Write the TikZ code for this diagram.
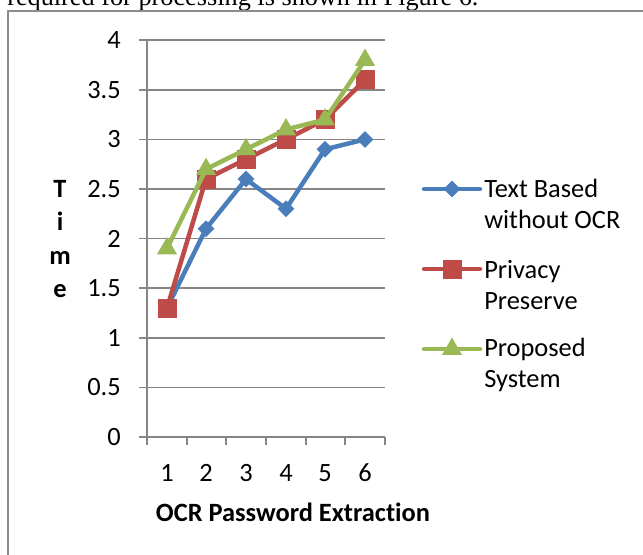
\documentclass[tikz,border=0pt]{standalone}
\usepackage{fontspec}
\setmainfont{Carlito}[Ligatures=NoCommon]
\newfontfamily\captionserif{Liberation Serif}
\usetikzlibrary{shapes.geometric}
\newlength{\du}
\setlength{\du}{0.75pt}
\definecolor{gridgray}{HTML}{868686}
\definecolor{framegray}{HTML}{8C8C8C}
\definecolor{seriesblue}{HTML}{4A7EBB}
\definecolor{seriesred}{HTML}{BE4B48}
\definecolor{seriesgreen}{HTML}{98B954}

\begin{document}
\begin{tikzpicture}[
  font=\fontsize{19.8pt}{23pt}\selectfont,
  gridline/.style={draw=gridgray, line width=1.6\du},
  seriesline/.style={line width=4.5\du, line join=round, line cap=round},
  diamondmark/.style={diamond, fill=seriesblue, inner sep=0pt, minimum width=17\du, minimum height=17\du},
  squaremark/.style={rectangle, fill=seriesred, inner sep=0pt, minimum size=19\du},
  trianglemark/.style={regular polygon, regular polygon sides=3, fill=seriesgreen, inner sep=0pt, minimum size=23\du},
  ticklabel/.style={anchor=east, inner sep=0pt},
  catlabel/.style={inner sep=0pt},
  legendtext/.style={anchor=west, inner sep=0pt, align=left, font=\fontsize{19.8pt}{31.5\du}\selectfont},
  titleletter/.style={anchor=base, inner sep=0pt, font=\fontsize{19.8pt}{23pt}\selectfont\bfseries}
]
\pgftransformxscale{1.000000}
\pgftransformyscale{-1.000000}
\useasboundingbox (0\du,0\du) rectangle (643\du,554\du);
% caption line cut by the page edge
\node[anchor=base west, inner sep=0pt, font=\captionserif\fontsize{19.7pt}{22pt}\selectfont] (caption) at (7\du,5\du){required for processing is shown in Figure 6.};
% frame
\draw[framegray, line width=2\du] (8\du,560\du)--(8\du,11\du)--(650\du,11\du);
% gridlines
\draw[gridline] (139\du,40.2\du)--(385\du,40.2\du);
\draw[gridline] (139\du,89.8\du)--(385\du,89.8\du);
\draw[gridline] (139\du,139.4\du)--(385\du,139.4\du);
\draw[gridline] (139\du,189.0\du)--(385\du,189.0\du);
\draw[gridline] (139\du,238.6\du)--(385\du,238.6\du);
\draw[gridline] (139\du,288.2\du)--(385\du,288.2\du);
\draw[gridline] (139\du,337.8\du)--(385\du,337.8\du);
\draw[gridline] (139\du,387.4\du)--(385\du,387.4\du);
\draw[gridline] (139\du,437.0\du)--(385\du,437.0\du);
% axis and ticks
\draw[gridline] (147\du,40.2\du)--(147\du,445\du);
\draw[gridline] (187\du,437\du)--(187\du,445\du);
\draw[gridline] (226\du,437\du)--(226\du,445\du);
\draw[gridline] (266\du,437\du)--(266\du,445\du);
\draw[gridline] (306\du,437\du)--(306\du,445\du);
\draw[gridline] (345\du,437\du)--(345\du,445\du);
\draw[gridline] (385\du,437\du)--(385\du,445\du);
% setfont left to latex
\node[ticklabel] (val40) at (121\du,40.2\du){4};
\node[ticklabel] (val35) at (121\du,89.8\du){3.5};
\node[ticklabel] (val30) at (121\du,139.4\du){3};
\node[ticklabel] (val25) at (121\du,189.0\du){2.5};
\node[ticklabel] (val20) at (121\du,238.6\du){2};
\node[ticklabel] (val15) at (121\du,288.2\du){1.5};
\node[ticklabel] (val10) at (121\du,337.8\du){1};
\node[ticklabel] (val05) at (121\du,387.4\du){0.5};
\node[ticklabel] (val00) at (121\du,437.0\du){0};
% setfont left to latex
\node[catlabel] (cat1) at (167\du,473\du){1};
\node[catlabel] (cat2) at (206\du,473\du){2};
\node[catlabel] (cat3) at (246\du,473\du){3};
\node[catlabel] (cat4) at (286\du,473\du){4};
\node[catlabel] (cat5) at (325\du,473\du){5};
\node[catlabel] (cat6) at (365\du,473\du){6};
\node[catlabel, font=\fontsize{19.8pt}{23pt}\selectfont\bfseries] (xtitle) at (293\du,512\du){OCR Password Extraction};
\node[titleletter] (ytitleT) at (60\du,197\du){T};
\node[titleletter] (ytitlei) at (60\du,230\du){i};
\node[titleletter] (ytitlem) at (60\du,264\du){m};
\node[titleletter] (ytitlee) at (60\du,297\du){e};
% Text Based without OCR
\coordinate (tb1) at (167\du,308.0\du);
\coordinate (tb2) at (206\du,228.7\du);
\coordinate (tb3) at (246\du,179.1\du);
\coordinate (tb4) at (286\du,208.8\du);
\coordinate (tb5) at (325\du,149.3\du);
\coordinate (tb6) at (365\du,139.4\du);
\draw[seriesline, seriesblue] (tb1)--(tb2)--(tb3)--(tb4)--(tb5)--(tb6);
\node[diamondmark] (tbmark1) at (tb1){};
\node[diamondmark] (tbmark2) at (tb2){};
\node[diamondmark] (tbmark3) at (tb3){};
\node[diamondmark] (tbmark4) at (tb4){};
\node[diamondmark] (tbmark5) at (tb5){};
\node[diamondmark] (tbmark6) at (tb6){};
% Privacy Preserve
\coordinate (pp1) at (167\du,308.0\du);
\coordinate (pp2) at (206\du,179.1\du);
\coordinate (pp3) at (246\du,159.2\du);
\coordinate (pp4) at (286\du,139.4\du);
\coordinate (pp5) at (325\du,119.6\du);
\coordinate (pp6) at (365\du,79.9\du);
\draw[seriesline, seriesred] (pp1)--(pp2)--(pp3)--(pp4)--(pp5)--(pp6);
\node[squaremark] (ppmark1) at (pp1){};
\node[squaremark] (ppmark2) at (pp2){};
\node[squaremark] (ppmark3) at (pp3){};
\node[squaremark] (ppmark4) at (pp4){};
\node[squaremark] (ppmark5) at (pp5){};
\node[squaremark] (ppmark6) at (pp6){};
% Proposed System
\coordinate (ps1) at (167\du,248.5\du);
\coordinate (ps2) at (206\du,169.2\du);
\coordinate (ps3) at (246\du,149.3\du);
\coordinate (ps4) at (286\du,129.5\du);
\coordinate (ps5) at (325\du,119.6\du);
\coordinate (ps6) at (365\du,60.0\du);
\draw[seriesline, seriesgreen] (ps1)--(ps2)--(ps3)--(ps4)--(ps5)--(ps6);
\node[trianglemark] (psmark1) at (ps1){};
\node[trianglemark] (psmark2) at (ps2){};
\node[trianglemark] (psmark3) at (ps3){};
\node[trianglemark] (psmark4) at (ps4){};
\node[trianglemark] (psmark5) at (ps5){};
\node[trianglemark] (psmark6) at (ps6){};
% legend
\coordinate (keytbA) at (424\du,189\du);
\coordinate (keytbB) at (480\du,189\du);
\draw[seriesline, seriesblue] (keytbA)--(keytbB);
\node[diamondmark] (keytbmark) at (452\du,189\du){};
\node[legendtext] (keytb) at (484\du,204\du){Text Based\\without OCR};
\coordinate (keyppA) at (424\du,269\du);
\coordinate (keyppB) at (480\du,269\du);
\draw[seriesline, seriesred] (keyppA)--(keyppB);
\node[squaremark] (keyppmark) at (452\du,269\du){};
\node[legendtext] (keypp) at (484\du,285\du){Privacy\\Preserve};
\coordinate (keypsA) at (424\du,349\du);
\coordinate (keypsB) at (480\du,349\du);
\draw[seriesline, seriesgreen] (keypsA)--(keypsB);
\node[trianglemark] (keypsmark) at (452\du,349\du){};
\node[legendtext] (keyps) at (484\du,365\du){Proposed\\System};
\end{tikzpicture}
\end{document}
